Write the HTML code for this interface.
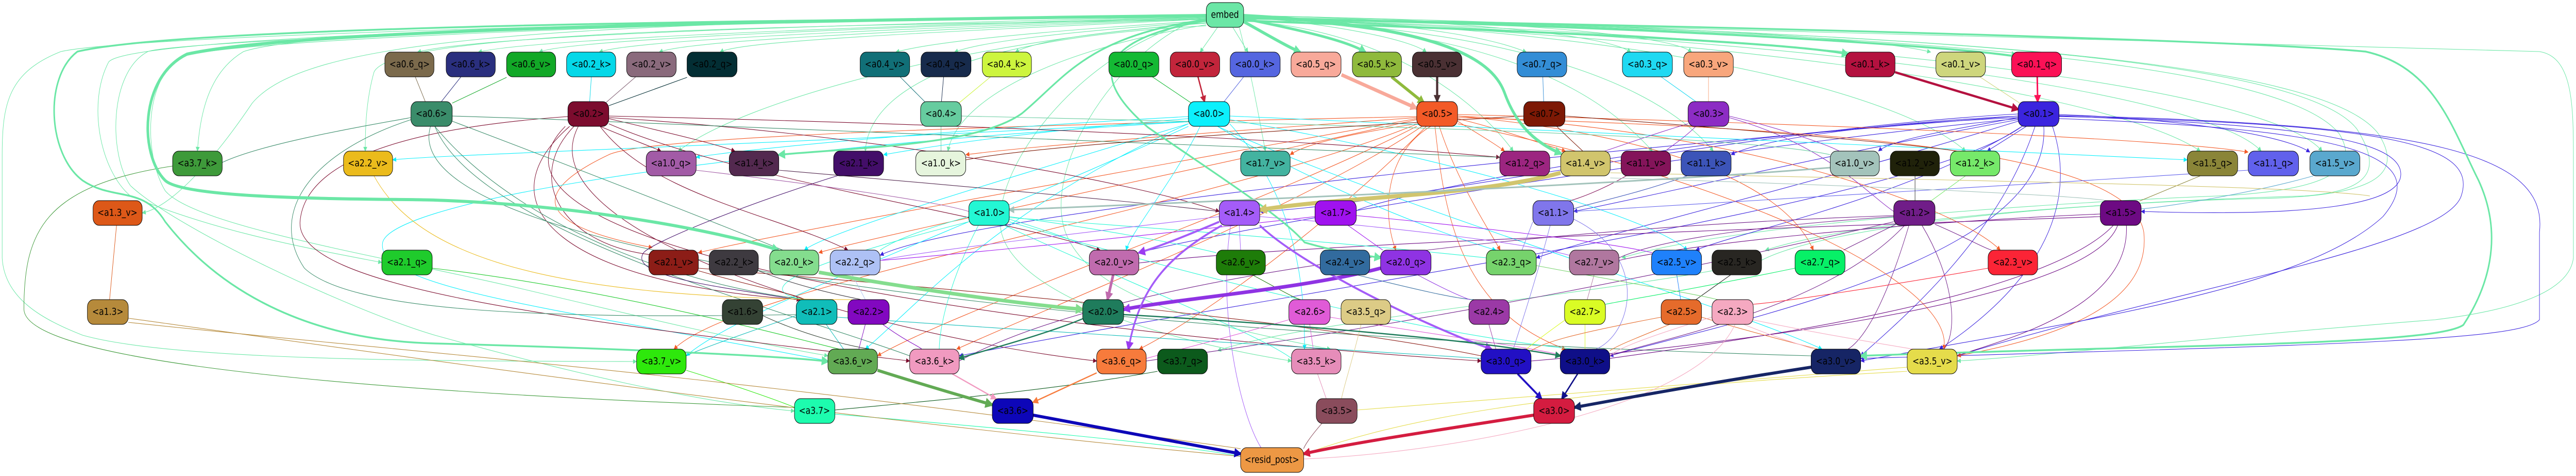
<!DOCTYPE html>
<html><head><meta charset="utf-8"><style>
html,body{margin:0;padding:0;background:#fff;width:100%;height:100%;overflow:hidden;}
svg{display:block;width:100vw;height:100vh;}
text{font-family:"DejaVu Sans","Liberation Sans",sans-serif;font-size:18.5px;fill:#000;text-anchor:middle;dominant-baseline:central;}
.n{stroke:#000;stroke-width:1;}
.t path{fill:none;stroke-width:1.1;}
.k path{fill:none;}
</style></head><body>
<svg viewBox="0 0 5924 923" preserveAspectRatio="none" xmlns="http://www.w3.org/2000/svg">
<defs>
<marker id="g" viewBox="0 0 10 10" refX="9" refY="5" markerWidth="11" markerHeight="9" orient="auto" markerUnits="userSpaceOnUse"><path d="M0 0L10 5L0 10z" fill="#6be7a6"/></marker>
<marker id="o" viewBox="0 0 10 10" refX="9" refY="5" markerWidth="11" markerHeight="9" orient="auto" markerUnits="userSpaceOnUse"><path d="M0 0L10 5L0 10z" fill="#f35a27"/></marker>
<marker id="b" viewBox="0 0 10 10" refX="9" refY="5" markerWidth="11" markerHeight="9" orient="auto" markerUnits="userSpaceOnUse"><path d="M0 0L10 5L0 10z" fill="#3b24de"/></marker>
<marker id="c" viewBox="0 0 10 10" refX="9" refY="5" markerWidth="11" markerHeight="9" orient="auto" markerUnits="userSpaceOnUse"><path d="M0 0L10 5L0 10z" fill="#0cf0fc"/></marker>
<marker id="m" viewBox="0 0 10 10" refX="9" refY="5" markerWidth="11" markerHeight="9" orient="auto" markerUnits="userSpaceOnUse"><path d="M0 0L10 5L0 10z" fill="#7c0c2e"/></marker>
<marker id="G" viewBox="0 0 10 10" refX="8" refY="5" markerWidth="22" markerHeight="18" orient="auto" markerUnits="userSpaceOnUse"><path d="M0 0L10 5L0 10z" fill="#6be7a6"/></marker>
<marker id="P" viewBox="0 0 10 10" refX="8" refY="5" markerWidth="22" markerHeight="18" orient="auto" markerUnits="userSpaceOnUse"><path d="M0 0L10 5L0 10z" fill="#9b3cf0"/></marker>
<marker id="B" viewBox="0 0 10 10" refX="8" refY="5" markerWidth="22" markerHeight="18" orient="auto" markerUnits="userSpaceOnUse"><path d="M0 0L10 5L0 10z" fill="#0d06b8"/></marker>
<marker id="R" viewBox="0 0 10 10" refX="8" refY="5" markerWidth="22" markerHeight="18" orient="auto" markerUnits="userSpaceOnUse"><path d="M0 0L10 5L0 10z" fill="#d41c40"/></marker>
<marker id="N" viewBox="0 0 10 10" refX="8" refY="5" markerWidth="22" markerHeight="18" orient="auto" markerUnits="userSpaceOnUse"><path d="M0 0L10 5L0 10z" fill="#162565"/></marker>
<marker id="K" viewBox="0 0 10 10" refX="8" refY="5" markerWidth="24" markerHeight="20" orient="auto" markerUnits="userSpaceOnUse"><path d="M0 0L10 5L0 10z" fill="#d1c56d"/></marker>
<marker id="S" viewBox="0 0 10 10" refX="8" refY="5" markerWidth="22" markerHeight="18" orient="auto" markerUnits="userSpaceOnUse"><path d="M0 0L10 5L0 10z" fill="#f8a99a"/></marker>
<marker id="L" viewBox="0 0 10 10" refX="8" refY="5" markerWidth="22" markerHeight="18" orient="auto" markerUnits="userSpaceOnUse"><path d="M0 0L10 5L0 10z" fill="#8fba3c"/></marker>
<marker id="D" viewBox="0 0 10 10" refX="8" refY="5" markerWidth="20" markerHeight="16" orient="auto" markerUnits="userSpaceOnUse"><path d="M0 0L10 5L0 10z" fill="#4a3033"/></marker>
<marker id="V" viewBox="0 0 10 10" refX="8" refY="5" markerWidth="22" markerHeight="18" orient="auto" markerUnits="userSpaceOnUse"><path d="M0 0L10 5L0 10z" fill="#c06bae"/></marker>
<marker id="H" viewBox="0 0 10 10" refX="8" refY="5" markerWidth="24" markerHeight="20" orient="auto" markerUnits="userSpaceOnUse"><path d="M0 0L10 5L0 10z" fill="#84dd8e"/></marker>
<marker id="E" viewBox="0 0 10 10" refX="8" refY="5" markerWidth="24" markerHeight="20" orient="auto" markerUnits="userSpaceOnUse"><path d="M0 0L10 5L0 10z" fill="#62aa54"/></marker>
<marker id="M" viewBox="0 0 10 10" refX="8" refY="5" markerWidth="22" markerHeight="18" orient="auto" markerUnits="userSpaceOnUse"><path d="M0 0L10 5L0 10z" fill="#b4113f"/></marker>
<marker id="Q" viewBox="0 0 10 10" refX="8" refY="5" markerWidth="20" markerHeight="16" orient="auto" markerUnits="userSpaceOnUse"><path d="M0 0L10 5L0 10z" fill="#fb1156"/></marker>
<marker id="I" viewBox="0 0 10 10" refX="8" refY="5" markerWidth="20" markerHeight="16" orient="auto" markerUnits="userSpaceOnUse"><path d="M0 0L10 5L0 10z" fill="#2210c4"/></marker>
<marker id="J" viewBox="0 0 10 10" refX="8" refY="5" markerWidth="20" markerHeight="16" orient="auto" markerUnits="userSpaceOnUse"><path d="M0 0L10 5L0 10z" fill="#0f0f88"/></marker>
<marker id="O" viewBox="0 0 10 10" refX="8" refY="5" markerWidth="18" markerHeight="14" orient="auto" markerUnits="userSpaceOnUse"><path d="M0 0L10 5L0 10z" fill="#f77b3c"/></marker>
<marker id="F" viewBox="0 0 10 10" refX="8" refY="5" markerWidth="18" markerHeight="14" orient="auto" markerUnits="userSpaceOnUse"><path d="M0 0L10 5L0 10z" fill="#f19ac0"/></marker>
<marker id="T" viewBox="0 0 10 10" refX="8" refY="5" markerWidth="18" markerHeight="14" orient="auto" markerUnits="userSpaceOnUse"><path d="M0 0L10 5L0 10z" fill="#1f7c5c"/></marker>
<marker id="A" viewBox="0 0 10 10" refX="8" refY="5" markerWidth="18" markerHeight="14" orient="auto" markerUnits="userSpaceOnUse"><path d="M0 0L10 5L0 10z" fill="#a3c3bb"/></marker>
<marker id="C" viewBox="0 0 10 10" refX="8" refY="5" markerWidth="18" markerHeight="14" orient="auto" markerUnits="userSpaceOnUse"><path d="M0 0L10 5L0 10z" fill="#c2253b"/></marker>
</defs>

<g class="t" stroke="#6be7a6" marker-end="url(#g)">
<path d="M2774 32 C1800 50 1100 70 960 101"/>
<path d="M2774 33 C1800 55 1200 80 1100 101"/>
<path d="M2774 34 C1800 58 1300 80 1240 101"/>
<path d="M2774 35 C1900 60 1450 80 1378 101"/>
<path d="M2774 36 C2000 62 1580 80 1516 101"/>
<path d="M2774 37 C2100 64 1700 80 1656 101"/>
<path d="M2774 40 C2400 60 2150 80 2060 101"/>
<path d="M2774 42 C2450 62 2260 80 2195 101"/>
<path d="M2774 44 C2500 64 2380 80 2335 101"/>
<path d="M2800 53 L2760 101"/>
<path d="M2835 53 L2870 101"/>
<path d="M2860 32 C3100 50 3250 80 3280 101"/>
<path d="M2860 30 C3300 45 3450 80 3510 101"/>
<path d="M2860 30 C3400 40 3700 70 3750 101"/>
<path d="M2860 30 C3500 40 3850 70 3890 101"/>
<path d="M2860 30 C3700 45 4300 70 4440 101"/>
<path d="M2774 30 C1500 40 700 60 560 100 C480 140 460 220 454 293"/>
<path d="M2774 38 C1800 50 900 60 860 140 C840 200 840 260 840 293"/>
<path d="M2774 30 C1200 40 700 80 580 200 C500 300 400 400 327 413"/>
<path d="M2774 30 C1500 40 300 70 250 120 C200 200 230 330 300 380 C500 450 700 480 878 509"/>
<path d="M2774 30 C1500 40 300 70 140 100 C20 140 5 200 5 300 L5 500 C10 580 100 620 190 650 C400 700 1000 700 1464 701"/>
<path d="M2774 30 C1500 40 400 80 340 100 C250 140 250 300 300 360 C400 440 800 600 1000 650 C1300 720 1600 780 1827 797"/>
<path d="M2774 30 C1500 40 500 80 420 110 C330 150 330 300 380 370 C450 440 900 500 1200 560 C1500 620 1700 660 1904 690"/>
<path d="M2774 45 C2200 80 1700 200 1560 293"/>
<path d="M2774 50 C2300 70 2000 150 1990 293"/>
<path d="M2774 48 C2400 100 2200 200 2180 293"/>
<path d="M2850 53 C2880 150 2900 250 2910 293"/>
<path d="M2860 40 C3200 60 3400 200 3480 293"/>
<path d="M2860 35 C3500 60 3700 200 3800 293"/>
<path d="M2860 35 C3600 60 3850 200 3940 293"/>
<path d="M2860 35 C3900 60 4400 200 4520 293"/>
<path d="M2860 35 C4200 80 4900 200 5060 293"/>
<path d="M2860 35 C4400 80 5100 200 5200 293"/>
<path d="M2860 35 C4600 80 5250 200 5340 293"/>
<path d="M2860 32 C4500 60 5500 90 5840 100 C5915 110 5918 200 5918 300 L5918 500 C5910 560 5800 600 5600 620 C5000 660 4700 690 4501 700"/>
<path d="M2860 34 C4500 60 5300 120 5420 250 C5480 330 5450 370 5300 380 C4900 390 4300 420 4060 485"/>
<path d="M2860 34 C4500 60 5350 120 5470 260 C5530 340 5460 380 5200 385 C4700 395 4200 440 4050 505 C3800 560 3000 620 2800 680"/>
<path d="M2860 34 C4400 60 5250 120 5380 260 C5430 330 5350 370 5100 380 C4800 390 4000 430 3730 500"/>
<path d="M2733 45 C2500 100 2300 300 2300 430 C2300 550 2600 650 2970 700"/>
<path d="M2733 45 C2550 120 2400 330 2450 450 C2500 560 2700 620 3060 677"/>
</g>

<g class="t" stroke="#3b24de" marker-end="url(#b)">
<path d="M4660 245 L4570 293"/>
<path d="M4641 228 C4500 250 4350 270 4320 293"/>
<path d="M4641 225 C4300 240 4050 270 3981 300"/>
<path d="M4641 221 C4000 250 3200 400 2897 410"/>
<path d="M4641 230 C3800 300 2800 450 2619 490"/>
<path d="M4641 225 C3500 300 2200 420 2024 495"/>
<path d="M4650 245 C4400 400 3000 560 2206 690"/>
<path d="M4700 245 C4720 500 4000 620 3702 690"/>
<path d="M4680 245 C4600 450 4400 600 4279 690"/>
<path d="M4720 245 C4800 450 4600 600 4460 677"/>
<path d="M4650 245 C4400 380 4000 450 3900 485"/>
<path d="M4641 235 C4200 350 3700 450 3533 500"/>
<path d="M4641 232 C4200 300 3800 380 3619 410"/>
<path d="M4735 225 C5200 240 5500 260 5520 330 C5540 400 5300 420 4924 410"/>
<path d="M4735 222 C5000 230 5250 260 5312 295"/>
<path d="M4735 230 C5400 250 5600 300 5480 420 C5300 560 4800 620 4279 700"/>
<path d="M4735 226 C5500 240 5700 280 5660 380 C5620 480 5000 560 4501 690"/>
<path d="M4735 224 C5600 240 5860 300 5840 450 L5840 620 C5800 660 5400 668 4279 695"/>
<path d="M4641 228 C3800 260 3100 400 3119 410"/>
</g>

<g class="t" stroke="#f35a27" marker-end="url(#o)">
<path d="M3352 235 C3400 260 3440 280 3460 293"/>
<path d="M3352 230 C3450 250 3550 280 3600 293"/>
<path d="M3290 245 C3180 300 3180 420 3210 485"/>
<path d="M3310 245 C3350 350 3420 440 3450 485"/>
<path d="M3258 228 C2900 250 2400 280 2221 300"/>
<path d="M3258 230 C2800 300 1800 450 1606 490"/>
<path d="M3258 232 C2800 320 2000 460 1883 490"/>
<path d="M3280 245 C3100 400 2800 600 2620 677"/>
<path d="M3270 245 C3000 400 2400 600 2200 677"/>
<path d="M3260 240 C2800 400 1700 550 1550 677"/>
<path d="M3352 225 C3800 260 4100 350 4170 485"/>
<path d="M3352 225 C4000 250 4500 400 4600 485"/>
<path d="M3352 240 C4000 350 4500 550 4470 677"/>
<path d="M3352 222 C4200 240 5000 270 5170 295"/>
<path d="M3258 240 C3100 260 3000 280 2967 300"/>
<path d="M3258 245 C2900 400 2200 600 2018 690"/>
<path d="M3300 245 C3320 400 3350 600 3600 677"/>
<path d="M3258 226 C2500 240 1500 260 1400 300 C1200 380 1250 440 1500 480"/>
<path d="M3352 228 C4300 250 4900 300 4930 450 C4950 600 4700 660 4501 690"/>
</g>

<g class="t" stroke="#0cf0fc" marker-end="url(#c)">
<path d="M2733 226 C2200 250 1700 290 1601 305"/>
<path d="M2733 230 C2300 260 2100 290 2032 300"/>
<path d="M2760 245 C2700 350 2600 450 2590 485"/>
<path d="M2828 225 C3800 260 4800 300 5030 310"/>
<path d="M2828 232 C3300 300 3800 420 3880 485"/>
<path d="M2800 245 C3200 400 4000 600 4190 677"/>
<path d="M2733 240 C2300 400 2100 600 1990 677"/>
<path d="M2733 245 C2200 450 1700 600 1578 690"/>
<path d="M2733 240 C2300 350 1900 450 1850 485"/>
<path d="M2800 245 C3000 350 3300 450 3440 485"/>
<path d="M2733 235 C1800 280 1000 300 903 310"/>
<path d="M2828 240 C3000 400 3000 600 3000 677"/>
<path d="M2733 236 C1500 300 900 400 880 470 C860 560 1300 600 1904 700"/>
</g>

<g class="t" stroke="#7c0c2e" marker-end="url(#m)">
<path d="M1380 245 C1450 270 1500 285 1520 293"/>
<path d="M1400 230 C1550 260 1650 280 1690 293"/>
<path d="M1320 245 C1200 350 1300 480 1510 495"/>
<path d="M1380 245 C1500 380 1800 420 1950 485"/>
<path d="M1400 240 C1700 350 2300 420 2530 485"/>
<path d="M1330 245 C1200 450 2000 650 2522 700"/>
<path d="M1400 225 C2200 240 3000 270 3449 305"/>
<path d="M1400 228 C2000 260 2600 350 2804 410"/>
<path d="M1310 245 C1100 400 1300 550 1840 581"/>
<path d="M1300 245 C1000 500 2500 650 3406 700"/>
<path d="M1306 226 C900 250 700 320 690 430 C680 560 1300 620 2092 700"/>
</g>

<g class="t">
<path stroke="#3a8c6a" d="M945 228 C800 250 600 280 511 315"/>
<path stroke="#3a8c6a" d="M1040 225 C2000 250 3000 290 3449 305"/>
<path stroke="#3a8c6a" d="M1040 235 C1400 350 1700 450 1800 485"/>
<path stroke="#3a8c6a" d="M990 245 C900 500 2500 650 4165 690"/>
<path stroke="#3a8c6a" d="M1000 245 C1100 450 1800 600 2092 690"/>
<path stroke="#3a8c6a" d="M1000 245 C1200 450 1600 560 1860 581"/>
<path stroke="#3a8c6a" d="M945 232 C700 300 620 420 700 520 C800 600 1200 620 1831 610"/>
<path stroke="#701d88" d="M4360 435 C4300 460 4250 480 4240 485"/>
<path stroke="#701d88" d="M4450 435 C4520 460 4560 480 4580 485"/>
<path stroke="#701d88" d="M4420 437 C4500 550 4500 650 4470 677"/>
<path stroke="#701d88" d="M4390 437 C4350 550 4300 650 4250 677"/>
<path stroke="#701d88" d="M4355 420 C4000 440 3800 470 3723 500"/>
<path stroke="#701d88" d="M4380 437 C4200 600 3800 660 3702 690"/>
<path stroke="#701d88" d="M4355 430 C3500 600 2800 680 2636 700"/>
<path stroke="#701d88" d="M4355 418 C3600 440 2600 520 2206 700"/>
<path stroke="#8c2cc4" d="M3976 228 C4200 280 4300 380 4355 410"/>
<path stroke="#8c2cc4" d="M3882 240 C3800 260 3720 285 3690 293"/>
<path stroke="#8c2cc4" d="M3900 245 C3870 270 3840 285 3830 293"/>
<path stroke="#8c2cc4" d="M3976 225 C4100 250 4200 280 4230 293"/>
<path stroke="#6d0a83" d="M4830 415 C4400 430 3900 470 3723 505"/>
<path stroke="#6d0a83" d="M4860 437 C4700 580 4000 660 3702 695"/>
<path stroke="#6d0a83" d="M4870 437 C4800 600 3800 680 3521 700"/>
<path stroke="#6d0a83" d="M4890 437 C4900 600 4600 660 4501 690"/>
<path stroke="#6d0a83" d="M4830 420 C4200 440 3000 470 2619 510"/>
<path stroke="#8a8538" d="M5060 341 L4920 390"/>
<path stroke="#5aa8ce" d="M5320 341 C5200 370 5000 400 4924 405"/>
<path stroke="#6161ec" d="M5170 330 C4600 360 3900 400 3619 410"/>
<path stroke="#3c54b8" d="M3880 341 C3750 380 3650 395 3619 405"/>
<path stroke="#84145a" d="M3740 341 C3680 370 3630 385 3600 392"/>
<path stroke="#333" d="M4404 341 L4404 389"/>
<path stroke="#76e96a" d="M4520 341 L4440 390"/>
<path stroke="#23f7d4" d="M2321 425 C2420 450 2480 470 2520 485" stroke-width="2.5"/>
<path stroke="#23f7d4" d="M2321 420 C2500 440 2700 470 2797 490"/>
<path stroke="#23f7d4" d="M2250 437 C2180 550 2160 640 2160 677"/>
<path stroke="#23f7d4" d="M2321 430 C2800 550 3300 650 3620 677"/>
<path stroke="#23f7d4" d="M2228 420 C2100 450 2050 470 2024 485"/>
<path stroke="#23f7d4" d="M2310 437 C2600 550 2900 650 2970 695"/>
<path stroke="#23f7d4" d="M2321 422 C2800 450 3200 480 3418 500"/>
<path stroke="#23f7d4" d="M2228 430 C1900 500 1700 560 1850 581"/>
<path stroke="#a25ba6" d="M1600 330 C1900 360 2150 390 2228 410"/>
<path stroke="#53294f" d="M1791 330 C2200 360 2600 390 2804 410"/>
<path stroke="#430e69" d="M1940 337 C1700 400 1500 470 1480 490 C1440 540 1700 560 1830 581"/>
<path stroke="#a012ef" d="M3100 437 L3180 485"/>
<path stroke="#a012ef" d="M3024 420 C2500 470 2100 500 2024 505"/>
<path stroke="#a012ef" d="M3119 418 C3400 440 3700 470 3800 490"/>
<path stroke="#8076eb" d="M3565 437 C3530 550 3490 650 3480 677"/>
<path stroke="#8076eb" d="M3619 425 C3800 500 3750 650 3670 677"/>
<path stroke="#8076eb" d="M3525 430 L3500 485"/>
<path stroke="#a45cf8" d="M2850 437 L2853 485"/>
<path stroke="#a45cf8" d="M2830 437 C2800 600 2850 800 2900 868"/>
<path stroke="#a45cf8" d="M2804 420 C2400 460 2100 490 2024 505"/>
<path stroke="#a45cf8" d="M2897 420 C3200 440 3500 470 3609 495"/>
<path stroke="#8c1d17" d="M1606 525 C1750 560 1830 570 1850 581"/>
<path stroke="#8c1d17" d="M1606 520 C2200 560 3000 620 3406 690"/>
<path stroke="#3e3a40" d="M1744 525 C1850 560 1950 575 1980 581"/>
<path stroke="#ebbb1c" d="M860 341 C950 480 1200 580 1960 581"/>
<path stroke="#aec1f5" d="M1960 533 L1990 581"/>
<path stroke="#1fcb2c" d="M994 520 C1400 560 1800 650 1930 677"/>
<path stroke="#10bdb9" d="M1900 629 L1940 677"/>
<path stroke="#10bdb9" d="M1831 612 C1700 650 1600 680 1578 690"/>
<path stroke="#10bdb9" d="M1925 615 C2500 650 3200 680 3406 695"/>
<path stroke="#8208c0" d="M1990 629 L1975 677"/>
<path stroke="#8208c0" d="M2030 629 C2080 660 2110 670 2120 677"/>
<path stroke="#344234" d="M1754 612 C1850 650 1950 670 2000 677"/>
<path stroke="#2ee80c" d="M1578 718 C1700 750 1800 780 1827 790"/>
<path stroke="#0c5a1c" d="M2662 720 C2400 760 2100 780 1920 795"/>
<path stroke="#1dfcae" d="M1920 803 C2300 830 2700 860 2853 885"/>
<path stroke="#1e7c09" d="M2880 533 C2940 560 2970 575 2990 581"/>
<path stroke="#e05bd7" d="M3012 629 L3020 677"/>
<path stroke="#e05bd7" d="M2964 620 C2800 660 2700 680 2636 695"/>
<path stroke="#e05bd7" d="M3059 615 C3300 650 3500 670 3600 690"/>
<path stroke="#dccb86" d="M3130 629 C3110 700 3090 750 3085 773"/>
<path stroke="#e68db9" d="M3030 725 L3050 773"/>
<path stroke="#e5dc4b" d="M4386 712 C4000 740 3300 780 3121 795"/>
<path stroke="#e5dc4b" d="M4386 720 C3500 760 3200 820 3000 880"/>
<path stroke="#8a4c5c" d="M3040 821 C3010 850 3000 865 2998 870"/>
<path stroke="#326b9e" d="M3120 533 C3250 560 3350 580 3390 581"/>
<path stroke="#9b39a6" d="M3424 629 L3440 677"/>
<path stroke="#b0779f" d="M3666 533 L3650 581"/>
<path stroke="#dafc25" d="M3645 629 L3645 677"/>
<path stroke="#dafc25" d="M3600 620 C3550 650 3520 670 3510 677"/>
<path stroke="#07f067" d="M4128 520 C3900 560 3750 580 3692 590"/>
<path stroke="#1f81fb" d="M3856 533 L3865 581"/>
<path stroke="#282622" d="M3980 533 L3900 581"/>
<path stroke="#e56b2b" d="M3840 629 C3750 660 3720 670 3702 680"/>
<path stroke="#e56b2b" d="M3820 615 C3600 650 3550 665 3521 680"/>
<path stroke="#e56b2b" d="M3913 615 C4050 650 4150 670 4180 677"/>
<path stroke="#fb2436" d="M4572 520 C4300 560 4100 585 4032 590"/>
<path stroke="#f5a9c1" d="M4010 629 C4100 660 4150 670 4170 677"/>
<path stroke="#f5a9c1" d="M4030 620 C4200 650 4350 670 4400 677"/>
<path stroke="#f5a9c1" d="M3990 629 C3900 800 3300 880 2998 890"/>
<path stroke="#f5a9c1" d="M3937 615 C3800 650 3720 675 3702 690"/>
<path stroke="#76d36c" d="M3533 515 C3750 550 3900 570 3950 581"/>
<path stroke="#8f33e3" d="M3260 533 C3320 560 3360 575 3380 581"/>
<path stroke="#66cc9f" d="M2164 245 L2164 293"/>
<path stroke="#66cc9f" d="M2211 225 C3000 240 4000 260 4209 300"/>
<path stroke="#7d1905" d="M3580 245 C3610 270 3630 285 3640 293"/>
<path stroke="#7d1905" d="M3504 225 C3000 250 2400 280 2221 310"/>
<path stroke="#7d1905" d="M3599 225 C4000 250 4400 280 4500 293"/>
<path stroke="#1fd9f2" d="M3820 149 L3900 197"/>
<path stroke="#f8a67c" d="M3929 149 L3929 197"/>
<path stroke="#338dd6" d="M3548 149 L3550 197"/>
<path stroke="#116f77" d="M2070 149 L2130 200"/>
<path stroke="#172b4c" d="M2170 149 L2165 197"/>
<path stroke="#cdf53e" d="M2278 149 L2205 200"/>
<path stroke="#05d8e8" d="M1360 149 L1356 197"/>
<path stroke="#8a6a7c" d="M1462 149 L1392 200"/>
<path stroke="#032e34" d="M1580 150 L1400 205"/>
<path stroke="#7b6a4c" d="M955 149 L978 197"/>
<path stroke="#2a2f7e" d="M1060 149 L1015 197"/>
<path stroke="#12a827" d="M1165 150 L1040 200"/>
<path stroke="#ced67d" d="M4553 149 L4645 200"/>
<path stroke="#14b934" d="M2650 149 L2740 200" stroke-width="1.6"/>
<path stroke="#5566e0" d="M2860 149 L2815 197" stroke-width="1.4"/>
<path stroke="#dd5818" d="M268 437 L252 581"/>
<path stroke="#3e9a3a" d="M397 322 C100 360 55 450 55 600 C60 700 800 760 1827 790"/>
<path stroke="#b68a3b" d="M295 617 C1000 700 2000 820 2853 885"/>
<path stroke="#b68a3b" d="M295 625 C900 680 1600 720 2853 870"/>
<path stroke="#d1c56d" d="M3703 335 C4500 350 5300 360 5450 380"/>
<path stroke="#a3c3bb" d="M3703 345 C4300 360 4800 380 4850 390"/>
</g>

<g class="k">
<path stroke="#6be7a6" stroke-width="6" d="M2774 30 C1800 40 700 55 430 105 C320 150 320 300 380 350 C430 390 900 385 1000 388 C1400 400 1700 460 1790 485" marker-end="url(#G)"/>
<path stroke="#6be7a6" stroke-width="3.5" d="M2774 32 C1500 40 400 55 178 100 C100 150 110 300 190 350 C260 390 330 360 380 430 C500 560 700 660 1000 666 C1400 675 1800 690 1904 701" marker-end="url(#G)"/>
<path stroke="#6be7a6" stroke-width="3.5" d="M2774 38 C2500 70 2450 150 2350 220 C2250 280 2000 285 1791 300" marker-end="url(#G)"/>
<path stroke="#6be7a6" stroke-width="3.5" d="M2774 40 C2500 80 2520 160 2640 247 C2800 340 2950 420 3000 470 C3080 490 3140 495 3175 500" marker-end="url(#G)"/>
<path stroke="#6be7a6" stroke-width="6" d="M2860 42 C2920 70 2960 90 2990 101" marker-end="url(#G)"/>
<path stroke="#6be7a6" stroke-width="5" d="M2860 36 C3000 60 3100 80 3140 101" marker-end="url(#G)"/>
<path stroke="#6be7a6" stroke-width="6" d="M2860 30 C3300 50 3430 110 3460 180 C3490 250 3540 280 3590 298" marker-end="url(#G)"/>
<path stroke="#6be7a6" stroke-width="4" d="M2860 40 C3500 60 4100 80 4250 105" marker-end="url(#G)"/>
<path stroke="#6be7a6" stroke-width="4" d="M2860 35 C3800 50 4500 90 4640 110" marker-end="url(#G)"/>
<path stroke="#6be7a6" stroke-width="3.5" d="M2860 36 C4000 50 5200 80 5440 100 C5600 130 5640 250 5700 350 C5760 460 5720 560 5665 630 C5600 670 5000 668 4279 690" marker-end="url(#G)"/>
<path stroke="#f8a99a" stroke-width="7" d="M3085 145 L3258 210" marker-end="url(#S)"/>
<path stroke="#8fba3c" stroke-width="6" d="M3200 149 L3275 200" marker-end="url(#L)"/>
<path stroke="#4a3033" stroke-width="5" d="M3305 149 L3305 197" marker-end="url(#D)"/>
<path stroke="#c2253b" stroke-width="3" d="M2755 149 L2770 197" marker-end="url(#C)"/>
<path stroke="#d1c56d" stroke-width="8" d="M3589 335 C3400 380 3100 380 2897 407" marker-end="url(#K)"/>
<path stroke="#a3c3bb" stroke-width="3" d="M4209 325 C3700 360 2800 390 2321 407" marker-end="url(#A)"/>
<path stroke="#8f33e3" stroke-width="7" d="M3175 520 C3000 560 2700 580 2584 600" marker-end="url(#P)"/>
<path stroke="#a45cf8" stroke-width="4" d="M2804 430 C2720 460 2660 480 2619 490" marker-end="url(#P)"/>
<path stroke="#a45cf8" stroke-width="4" d="M2810 437 C2680 500 2620 560 2595 677" marker-end="url(#P)"/>
<path stroke="#a45cf8" stroke-width="4" d="M2897 437 C3000 520 3300 640 3430 677" marker-end="url(#P)"/>
<path stroke="#c06bae" stroke-width="6" d="M2560 533 L2547 581" marker-end="url(#V)"/>
<path stroke="#84dd8e" stroke-width="7" d="M1883 528 C2100 560 2350 590 2490 600" marker-end="url(#H)"/>
<path stroke="#1f7c5c" stroke-width="2.5" d="M2490 618 C2400 650 2260 680 2206 695" marker-end="url(#T)"/>
<path stroke="#1f7c5c" stroke-width="2.5" d="M2584 610 C3000 630 3400 660 3588 690" marker-end="url(#T)"/>
<path stroke="#62aa54" stroke-width="6" d="M2018 718 C2100 740 2200 765 2282 785" marker-end="url(#E)"/>
<path stroke="#f19ac0" stroke-width="2.5" d="M2190 725 L2290 773" marker-end="url(#F)"/>
<path stroke="#f77b3c" stroke-width="2.5" d="M2522 723 L2376 780" marker-end="url(#O)"/>
<path stroke="#0d06b8" stroke-width="6" d="M2376 805 C2600 840 2750 865 2853 880" marker-end="url(#B)"/>
<path stroke="#d41c40" stroke-width="6" d="M3527 805 C3300 835 3100 860 2998 880" marker-end="url(#R)"/>
<path stroke="#2210c4" stroke-width="4" d="M3490 725 L3545 773" marker-end="url(#I)"/>
<path stroke="#0f0f88" stroke-width="3" d="M3628 725 L3592 773" marker-end="url(#J)"/>
<path stroke="#162565" stroke-width="6" d="M4165 712 C3950 740 3750 770 3621 790" marker-end="url(#N)"/>
<path stroke="#b4113f" stroke-width="4.5" d="M4358 140 L4641 212" marker-end="url(#M)"/>
<path stroke="#fb1156" stroke-width="3.5" d="M4685 149 L4686 197" marker-end="url(#Q)"/>
</g>

<g>
<rect class="n" x="2774" y="5" width="86" height="48" rx="14" fill="#6be7a6"/><text x="2817" y="29">embed</text>

<rect class="n" x="885" y="101" width="113" height="48" rx="14" fill="#7b6a4c"/><text x="942" y="125">&lt;a0.6_q&gt;</text>
<rect class="n" x="1026" y="101" width="113" height="48" rx="14" fill="#2a2f7e"/><text x="1082" y="125">&lt;a0.6_k&gt;</text>
<rect class="n" x="1165" y="101" width="113" height="48" rx="14" fill="#12a827"/><text x="1221" y="125">&lt;a0.6_v&gt;</text>
<rect class="n" x="1303" y="101" width="113" height="48" rx="14" fill="#05d8e8"/><text x="1360" y="125">&lt;a0.2_k&gt;</text>
<rect class="n" x="1441" y="101" width="114" height="48" rx="14" fill="#8a6a7c"/><text x="1498" y="125">&lt;a0.2_v&gt;</text>
<rect class="n" x="1580" y="101" width="115" height="48" rx="14" fill="#032e34"/><text x="1638" y="125">&lt;a0.2_q&gt;</text>
<rect class="n" x="1978" y="101" width="114" height="48" rx="14" fill="#116f77"/><text x="2035" y="125">&lt;a0.4_v&gt;</text>
<rect class="n" x="2118" y="101" width="115" height="48" rx="14" fill="#172b4c"/><text x="2175" y="125">&lt;a0.4_q&gt;</text>
<rect class="n" x="2259" y="101" width="113" height="48" rx="14" fill="#cdf53e"/><text x="2315" y="125">&lt;a0.4_k&gt;</text>
<rect class="n" x="2550" y="101" width="115" height="48" rx="14" fill="#14b934"/><text x="2607" y="125">&lt;a0.0_q&gt;</text>
<rect class="n" x="2691" y="101" width="114" height="48" rx="14" fill="#c2253b"/><text x="2748" y="125">&lt;a0.0_v&gt;</text>
<rect class="n" x="2829" y="101" width="115" height="48" rx="14" fill="#5566e0"/><text x="2886" y="125">&lt;a0.0_k&gt;</text>
<rect class="n" x="2969" y="101" width="115" height="48" rx="14" fill="#f8a99a"/><text x="3026" y="125">&lt;a0.5_q&gt;</text>
<rect class="n" x="3110" y="101" width="113" height="48" rx="14" fill="#8fba3c"/><text x="3166" y="125">&lt;a0.5_k&gt;</text>
<rect class="n" x="3248" y="101" width="114" height="48" rx="14" fill="#4a3033"/><text x="3305" y="125">&lt;a0.5_v&gt;</text>
<rect class="n" x="3489" y="101" width="114" height="48" rx="14" fill="#338dd6"/><text x="3546" y="125">&lt;a0.7_q&gt;</text>
<rect class="n" x="3731" y="101" width="115" height="48" rx="14" fill="#1fd9f2"/><text x="3789" y="125">&lt;a0.3_q&gt;</text>
<rect class="n" x="3872" y="101" width="114" height="48" rx="14" fill="#f8a67c"/><text x="3929" y="125">&lt;a0.3_v&gt;</text>
<rect class="n" x="4244" y="101" width="114" height="48" rx="14" fill="#b4113f"/><text x="4301" y="125">&lt;a0.1_k&gt;</text>
<rect class="n" x="4452" y="101" width="114" height="48" rx="14" fill="#ced67d"/><text x="4509" y="125">&lt;a0.1_v&gt;</text>
<rect class="n" x="4626" y="101" width="115" height="48" rx="14" fill="#fb1156"/><text x="4684" y="125">&lt;a0.1_q&gt;</text>

<rect class="n" x="945" y="197" width="95" height="48" rx="14" fill="#3a8c6a"/><text x="992" y="221">&lt;a0.6&gt;</text>
<rect class="n" x="1306" y="197" width="94" height="48" rx="14" fill="#7c0c2e"/><text x="1353" y="221">&lt;a0.2&gt;</text>
<rect class="n" x="2117" y="197" width="94" height="48" rx="14" fill="#66cc9f"/><text x="2164" y="221">&lt;a0.4&gt;</text>
<rect class="n" x="2733" y="197" width="95" height="48" rx="14" fill="#0cf0fc"/><text x="2780" y="221">&lt;a0.0&gt;</text>
<rect class="n" x="3258" y="197" width="94" height="48" rx="14" fill="#f35a27"/><text x="3305" y="221">&lt;a0.5&gt;</text>
<rect class="n" x="3504" y="197" width="95" height="48" rx="14" fill="#7d1905"/><text x="3552" y="221">&lt;a0.7&gt;</text>
<rect class="n" x="3882" y="197" width="94" height="48" rx="14" fill="#8c2cc4"/><text x="3929" y="221">&lt;a0.3&gt;</text>
<rect class="n" x="4641" y="197" width="94" height="48" rx="14" fill="#3b24de"/><text x="4688" y="221">&lt;a0.1&gt;</text>

<rect class="n" x="397" y="293" width="114" height="48" rx="14" fill="#3e9a3a"/><text x="454" y="317">&lt;a3.7_k&gt;</text>
<rect class="n" x="790" y="293" width="113" height="48" rx="14" fill="#ebbb1c"/><text x="846" y="317">&lt;a2.2_v&gt;</text>
<rect class="n" x="1486" y="293" width="115" height="48" rx="14" fill="#a25ba6"/><text x="1543" y="317">&lt;a1.0_q&gt;</text>
<rect class="n" x="1677" y="293" width="114" height="48" rx="14" fill="#53294f"/><text x="1734" y="317">&lt;a1.4_k&gt;</text>
<rect class="n" x="1917" y="293" width="115" height="48" rx="14" fill="#430e69"/><text x="1975" y="317">&lt;a2.1_k&gt;</text>
<rect class="n" x="2106" y="293" width="115" height="48" rx="14" fill="#e6f5dd"/><text x="2164" y="317">&lt;a1.0_k&gt;</text>
<rect class="n" x="2853" y="293" width="114" height="48" rx="14" fill="#43b3a0"/><text x="2910" y="317">&lt;a1.7_v&gt;</text>
<rect class="n" x="3449" y="293" width="115" height="48" rx="14" fill="#9c2580"/><text x="3507" y="317">&lt;a1.2_q&gt;</text>
<rect class="n" x="3589" y="293" width="114" height="48" rx="14" fill="#d1c56d"/><text x="3646" y="317">&lt;a1.4_v&gt;</text>
<rect class="n" x="3728" y="293" width="114" height="48" rx="14" fill="#84145a"/><text x="3785" y="317">&lt;a1.1_v&gt;</text>
<rect class="n" x="3866" y="293" width="115" height="48" rx="14" fill="#3c54b8"/><text x="3924" y="317">&lt;a1.1_k&gt;</text>
<rect class="n" x="4209" y="293" width="113" height="48" rx="14" fill="#a3c3bb"/><text x="4265" y="317">&lt;a1.0_v&gt;</text>
<rect class="n" x="4347" y="293" width="113" height="48" rx="14" fill="#20220a"/><text x="4404" y="317">&lt;a1.2_v&gt;</text>
<rect class="n" x="4485" y="293" width="114" height="48" rx="14" fill="#76e96a"/><text x="4542" y="317">&lt;a1.2_k&gt;</text>
<rect class="n" x="5030" y="293" width="116" height="48" rx="14" fill="#8a8538"/><text x="5088" y="317">&lt;a1.5_q&gt;</text>
<rect class="n" x="5170" y="293" width="116" height="48" rx="14" fill="#6161ec"/><text x="5228" y="317">&lt;a1.1_q&gt;</text>
<rect class="n" x="5312" y="293" width="115" height="48" rx="14" fill="#5aa8ce"/><text x="5370" y="317">&lt;a1.5_v&gt;</text>

<rect class="n" x="214" y="389" width="113" height="48" rx="14" fill="#dd5818"/><text x="270" y="413">&lt;a1.3_v&gt;</text>
<rect class="n" x="2228" y="389" width="93" height="48" rx="14" fill="#23f7d4"/><text x="2275" y="413">&lt;a1.0&gt;</text>
<rect class="n" x="2804" y="389" width="93" height="48" rx="14" fill="#a45cf8"/><text x="2850" y="413">&lt;a1.4&gt;</text>
<rect class="n" x="3024" y="389" width="95" height="48" rx="14" fill="#a012ef"/><text x="3072" y="413">&lt;a1.7&gt;</text>
<rect class="n" x="3525" y="389" width="94" height="48" rx="14" fill="#8076eb"/><text x="3572" y="413">&lt;a1.1&gt;</text>
<rect class="n" x="4355" y="389" width="95" height="48" rx="14" fill="#701d88"/><text x="4403" y="413">&lt;a1.2&gt;</text>
<rect class="n" x="4830" y="389" width="94" height="48" rx="14" fill="#6d0a83"/><text x="4877" y="413">&lt;a1.5&gt;</text>

<rect class="n" x="878" y="485" width="116" height="48" rx="14" fill="#1fcb2c"/><text x="936" y="509">&lt;a2.1_q&gt;</text>
<rect class="n" x="1492" y="485" width="114" height="48" rx="14" fill="#8c1d17"/><text x="1549" y="509">&lt;a2.1_v&gt;</text>
<rect class="n" x="1631" y="485" width="113" height="48" rx="14" fill="#3e3a40"/><text x="1688" y="509">&lt;a2.2_k&gt;</text>
<rect class="n" x="1770" y="485" width="113" height="48" rx="14" fill="#84dd8e"/><text x="1826" y="509">&lt;a2.0_k&gt;</text>
<rect class="n" x="1909" y="485" width="115" height="48" rx="14" fill="#aec1f5"/><text x="1966" y="509">&lt;a2.2_q&gt;</text>
<rect class="n" x="2505" y="485" width="114" height="48" rx="14" fill="#c06bae"/><text x="2562" y="509">&lt;a2.0_v&gt;</text>
<rect class="n" x="2797" y="485" width="113" height="48" rx="14" fill="#1e7c09"/><text x="2853" y="509">&lt;a2.6_v&gt;</text>
<rect class="n" x="3036" y="485" width="114" height="48" rx="14" fill="#326b9e"/><text x="3093" y="509">&lt;a2.4_v&gt;</text>
<rect class="n" x="3175" y="485" width="116" height="48" rx="14" fill="#8f33e3"/><text x="3233" y="509">&lt;a2.0_q&gt;</text>
<rect class="n" x="3418" y="485" width="115" height="48" rx="14" fill="#76d36c"/><text x="3476" y="509">&lt;a2.3_q&gt;</text>
<rect class="n" x="3609" y="485" width="114" height="48" rx="14" fill="#b0779f"/><text x="3666" y="509">&lt;a2.7_v&gt;</text>
<rect class="n" x="3798" y="485" width="115" height="48" rx="14" fill="#1f81fb"/><text x="3856" y="509">&lt;a2.5_v&gt;</text>
<rect class="n" x="3937" y="485" width="114" height="48" rx="14" fill="#282622"/><text x="3994" y="509">&lt;a2.5_k&gt;</text>
<rect class="n" x="4128" y="485" width="115" height="48" rx="14" fill="#07f067"/><text x="4186" y="509">&lt;a2.7_q&gt;</text>
<rect class="n" x="4572" y="485" width="114" height="48" rx="14" fill="#fb2436"/><text x="4629" y="509">&lt;a2.3_v&gt;</text>

<rect class="n" x="201" y="581" width="94" height="48" rx="14" fill="#b68a3b"/><text x="248" y="605">&lt;a1.3&gt;</text>
<rect class="n" x="1661" y="581" width="93" height="48" rx="14" fill="#344234"/><text x="1708" y="605">&lt;a1.6&gt;</text>
<rect class="n" x="1831" y="581" width="94" height="48" rx="14" fill="#10bdb9"/><text x="1878" y="605">&lt;a2.1&gt;</text>
<rect class="n" x="1950" y="581" width="95" height="48" rx="14" fill="#8208c0"/><text x="1997" y="605">&lt;a2.2&gt;</text>
<rect class="n" x="2490" y="581" width="94" height="48" rx="14" fill="#1f7c5c"/><text x="2537" y="605">&lt;a2.0&gt;</text>
<rect class="n" x="2964" y="581" width="95" height="48" rx="14" fill="#e05bd7"/><text x="3012" y="605">&lt;a2.6&gt;</text>
<rect class="n" x="3084" y="581" width="114" height="48" rx="14" fill="#dccb86"/><text x="3141" y="605">&lt;a3.5_q&gt;</text>
<rect class="n" x="3378" y="581" width="93" height="48" rx="14" fill="#9b39a6"/><text x="3424" y="605">&lt;a2.4&gt;</text>
<rect class="n" x="3598" y="581" width="94" height="48" rx="14" fill="#dafc25"/><text x="3645" y="605">&lt;a2.7&gt;</text>
<rect class="n" x="3820" y="581" width="93" height="48" rx="14" fill="#e56b2b"/><text x="3867" y="605">&lt;a2.5&gt;</text>
<rect class="n" x="3937" y="581" width="95" height="48" rx="14" fill="#f5a9c1"/><text x="3984" y="605">&lt;a2.3&gt;</text>

<rect class="n" x="1464" y="677" width="114" height="48" rx="14" fill="#2ee80c"/><text x="1521" y="701">&lt;a3.7_v&gt;</text>
<rect class="n" x="1904" y="677" width="114" height="48" rx="14" fill="#62aa54"/><text x="1961" y="701">&lt;a3.6_v&gt;</text>
<rect class="n" x="2092" y="677" width="114" height="48" rx="14" fill="#f19ac0"/><text x="2149" y="701">&lt;a3.6_k&gt;</text>
<rect class="n" x="2522" y="677" width="114" height="48" rx="14" fill="#f77b3c"/><text x="2579" y="701">&lt;a3.6_q&gt;</text>
<rect class="n" x="2662" y="677" width="115" height="48" rx="14" fill="#0c5a1c"/><text x="2720" y="701">&lt;a3.7_q&gt;</text>
<rect class="n" x="2970" y="677" width="114" height="48" rx="14" fill="#e68db9"/><text x="3027" y="701">&lt;a3.5_k&gt;</text>
<rect class="n" x="3406" y="677" width="115" height="48" rx="14" fill="#2210c4"/><text x="3463" y="701">&lt;a3.0_q&gt;</text>
<rect class="n" x="3588" y="677" width="114" height="48" rx="14" fill="#0f0f88"/><text x="3645" y="701">&lt;a3.0_k&gt;</text>
<rect class="n" x="4165" y="677" width="114" height="48" rx="14" fill="#162565"/><text x="4222" y="701">&lt;a3.0_v&gt;</text>
<rect class="n" x="4386" y="677" width="115" height="48" rx="14" fill="#e5dc4b"/><text x="4444" y="701">&lt;a3.5_v&gt;</text>

<rect class="n" x="1827" y="773" width="93" height="48" rx="14" fill="#1dfcae"/><text x="1873" y="797">&lt;a3.7&gt;</text>
<rect class="n" x="2282" y="773" width="94" height="48" rx="14" fill="#0d06b8"/><text x="2329" y="797">&lt;a3.6&gt;</text>
<rect class="n" x="3027" y="773" width="94" height="48" rx="14" fill="#8a4c5c"/><text x="3074" y="797">&lt;a3.5&gt;</text>
<rect class="n" x="3527" y="773" width="94" height="48" rx="14" fill="#d41c40"/><text x="3574" y="797">&lt;a3.0&gt;</text>

<rect class="n" x="2853" y="868" width="145" height="48" rx="14" fill="#ed9844"/><text x="2925" y="892">&lt;resid_post&gt;</text>
</g>
</svg>
</body></html>
